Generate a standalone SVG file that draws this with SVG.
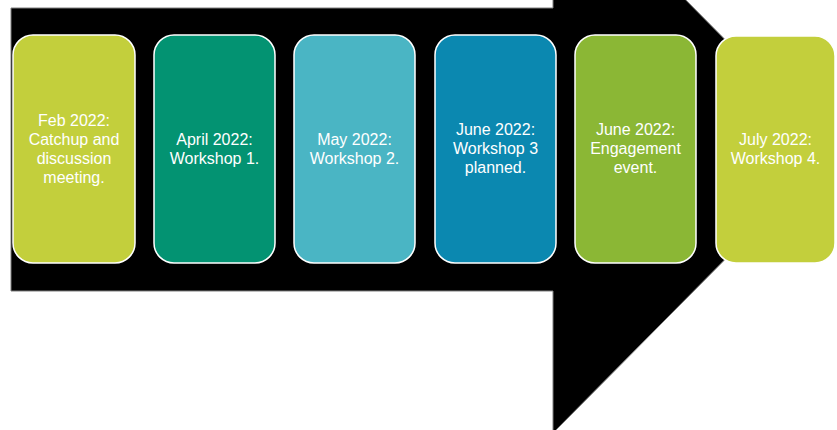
<svg xmlns="http://www.w3.org/2000/svg" width="837" height="430" viewBox="0 0 837 430">
  <style>
    .box { stroke: #ffffff; stroke-width: 1.5; }
    .lbl { font-family: "Liberation Sans", Arial, sans-serif; font-size: 16px; fill: #ffffff; text-anchor: middle; }
  </style>
  <rect width="837" height="430" fill="#ffffff"/>
  <!-- timeline arrow behind the steps -->
  <g id="arrow">
    <polygon points="11,8 553,8 553,-134 834,149.5 553,433 553,291 11,291" fill="#000000" stroke="#7f7f7f" stroke-width="1"/>
  </g>
  <g id="connectors"></g>
  <g id="step1">
    <rect class="box" x="13" y="35" width="122" height="228" rx="20" fill="#c3cf3c"/>
    <text class="lbl" x="74" y="126">Feb 2022:</text>
    <text class="lbl" x="74" y="145">Catchup and</text>
    <text class="lbl" x="74" y="164">discussion</text>
    <text class="lbl" x="74" y="183">meeting.</text>
  </g>
  <g id="step2">
    <rect class="box" x="154" y="35" width="121" height="228" rx="20" fill="#039372"/>
    <text class="lbl" x="214.5" y="145">April 2022:</text>
    <text class="lbl" x="214.5" y="164">Workshop 1.</text>
  </g>
  <g id="step3">
    <rect class="box" x="294" y="35" width="121" height="228" rx="20" fill="#4ab5c4"/>
    <text class="lbl" x="354.5" y="145">May 2022:</text>
    <text class="lbl" x="354.5" y="164">Workshop 2.</text>
  </g>
  <g id="step4">
    <rect class="box" x="435" y="35" width="121" height="228" rx="20" fill="#0b88b0"/>
    <text class="lbl" x="495.5" y="135">June 2022:</text>
    <text class="lbl" x="495.5" y="154">Workshop 3</text>
    <text class="lbl" x="495.5" y="173">planned.</text>
  </g>
  <g id="step5">
    <rect class="box" x="575" y="35" width="121" height="228" rx="20" fill="#8bb735"/>
    <text class="lbl" x="635.5" y="135">June 2022:</text>
    <text class="lbl" x="635.5" y="154">Engagement</text>
    <text class="lbl" x="635.5" y="173">event.</text>
  </g>
  <g id="step6">
    <rect class="box" x="716" y="36" width="119" height="227" rx="20" fill="#c3cf3c"/>
    <text class="lbl" x="775.5" y="145">July 2022:</text>
    <text class="lbl" x="775.5" y="164">Workshop 4.</text>
  </g>
</svg>
